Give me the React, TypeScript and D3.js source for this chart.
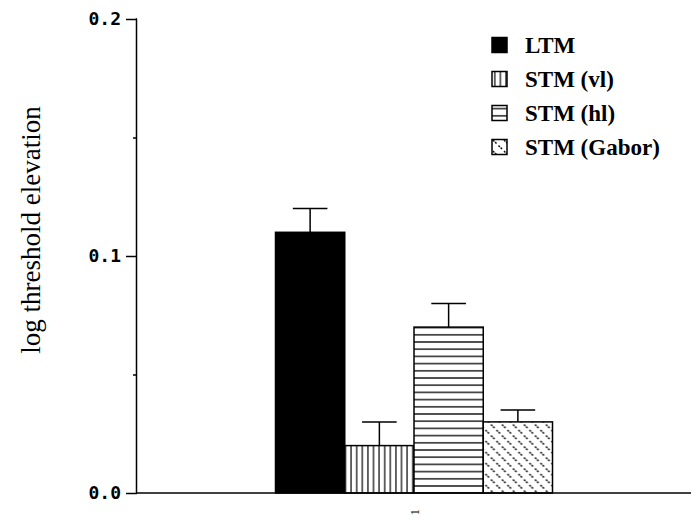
import React, { useEffect, useRef } from 'react';
import * as d3 from 'd3';

// condition on the x axis (single group)
const conditions = ['1'];
// bar series
const series = ['LTM', 'STM (vl)', 'STM (hl)', 'STM (Gabor)'];
const means = [0.11, 0.02, 0.07, 0.03];
const sems = [0.01, 0.01, 0.01, 0.005];
// y ticks
const majorTicks = [0.0, 0.1, 0.2];
const minorTicks = [0.05, 0.15];

const fills = ['#000', 'url(#vl)', 'url(#hl)', 'url(#gabor)'];

const App = () => {
  const chartRef = useRef<SVGSVGElement | null>(null);

  useEffect(() => {
    const width = 691;
    const height = 519;
    const margin = { top: 19, right: 0, bottom: 26, left: 137 };

    const svg = d3.select(chartRef.current);
    svg.selectAll('*').remove();

    const defs = svg.append('defs');
    // vertical lines
    const vl = defs.append('pattern')
      .attr('id', 'vl').attr('patternUnits', 'userSpaceOnUse')
      .attr('width', 5.6).attr('height', 10);
    vl.append('rect').attr('width', 5.6).attr('height', 10).attr('fill', '#fff');
    vl.append('line').attr('x1', 2.8).attr('x2', 2.8).attr('y1', 0).attr('y2', 10)
      .attr('stroke', '#000').attr('stroke-width', 1.2);
    // horizontal lines
    const hl = defs.append('pattern')
      .attr('id', 'hl').attr('patternUnits', 'userSpaceOnUse')
      .attr('width', 10).attr('height', 7.2);
    hl.append('rect').attr('width', 10).attr('height', 7.2).attr('fill', '#fff');
    hl.append('line').attr('x1', 0).attr('x2', 10).attr('y1', 3.6).attr('y2', 3.6)
      .attr('stroke', '#000').attr('stroke-width', 1.3);
    // gabor-ish dashes
    const gb = defs.append('pattern')
      .attr('id', 'gabor').attr('patternUnits', 'userSpaceOnUse')
      .attr('width', 11).attr('height', 11);
    gb.append('rect').attr('width', 11).attr('height', 11).attr('fill', '#fff');
    [[1, 1], [6.5, 6.5]].forEach(([px, py]) => {
      gb.append('line').attr('x1', px).attr('y1', py).attr('x2', px + 3.8).attr('y2', py + 3.8)
        .attr('stroke', '#111').attr('stroke-width', 1.5).attr('stroke-dasharray', '2 1');
    });

    const x = d3.scaleBand()
      .domain(conditions)
      .range([margin.left, width - margin.right])
      .paddingInner(0)
      .paddingOuter(0.5);

    const xInner = d3.scaleBand()
      .domain(series)
      .range([0, x.bandwidth()])
      .padding(0);

    const y = d3.scaleLinear()
      .domain([0, 0.2])
      .range([height - margin.bottom, margin.top]);

    const groups = svg.selectAll('.grp')
      .data(conditions)
      .enter()
      .append('g')
      .attr('class', 'grp')
      .attr('transform', (d) => `translate(${x(d)},0)`);

    const rows = series.map((s, i) => ({ s, m: means[i], e: sems[i], f: fills[i] }));

    groups.selectAll('rect')
      .data(rows)
      .enter()
      .append('rect')
      .attr('x', (d) => xInner(d.s)!)
      .attr('y', (d) => y(d.m))
      .attr('width', xInner.bandwidth())
      .attr('height', (d) => y(0) - y(d.m))
      .attr('fill', (d) => d.f)
      .attr('stroke', '#000')
      .attr('stroke-width', 1.5);

    // error bars
    const cap = xInner.bandwidth() / 4;
    groups.selectAll('.err')
      .data(rows)
      .enter()
      .append('path')
      .attr('class', 'err')
      .attr('d', (d) => {
        const cx = xInner(d.s)! + xInner.bandwidth() / 2;
        return `M${cx},${y(d.m)}V${y(d.m + d.e)}M${cx - cap},${y(d.m + d.e)}H${cx + cap}`;
      })
      .attr('fill', 'none')
      .attr('stroke', '#000')
      .attr('stroke-width', 1.5);

    // y axis
    const yAxis = svg.append('g')
      .attr('transform', `translate(${margin.left},0)`)
      .call(d3.axisLeft(y).tickValues(majorTicks).tickSize(11).tickPadding(5)
        .tickFormat((d) => d3.format('.1f')(d as number)));
    yAxis.select('.domain').attr('d', `M-0.5,${y(0)}V${y(0.2)}H0`).attr('stroke-width', 1.5);
    yAxis.selectAll('.tick line').attr('stroke-width', 1.5);
    yAxis.selectAll('text')
      .attr('font-family', 'DejaVu Sans Mono')
      .attr('font-weight', 'bold')
      .attr('font-size', 18)
      .attr('fill', '#000');

    svg.append('g')
      .attr('transform', `translate(${margin.left},0)`)
      .call(d3.axisLeft(y).tickValues(minorTicks).tickSize(4).tickFormat(() => ''))
      .call((g) => g.select('.domain').remove())
      .selectAll('.tick line').attr('stroke-width', 1.5);

    // x axis
    const xAxis = svg.append('g')
      .attr('transform', `translate(0,${y(0)})`)
      .call(d3.axisBottom(x).tickSize(0));
    xAxis.select('.domain').attr('d', `M${margin.left},0H${width}`).attr('stroke-width', 1.5);
    xAxis.selectAll('text')
      .attr('transform', 'rotate(-90)')
      .attr('text-anchor', 'end')
      .attr('x', -16)
      .attr('y', 0)
      .attr('dy', '0.35em')
      .attr('font-family', 'Liberation Serif')
      .attr('font-size', 13)
      .attr('fill', '#000');

    // y title
    svg.append('text')
      .attr('transform', `translate(40,230) rotate(-90)`)
      .attr('text-anchor', 'middle')
      .attr('font-family', 'Liberation Serif')
      .attr('font-size', 27)
      .attr('fill', '#000')
      .text('log threshold elevation');

    // legend
    const legend = svg.append('g').attr('transform', 'translate(492,37)');
    const items = legend.selectAll('.item')
      .data(rows)
      .enter()
      .append('g')
      .attr('class', 'item')
      .attr('transform', (d, i) => `translate(0,${i * 34})`);
    items.append('rect')
      .attr('y', 0.5)
      .attr('width', 15)
      .attr('height', 15)
      .attr('fill', (d) => d.f)
      .attr('stroke', '#000')
      .attr('stroke-width', 1.5);
    items.append('text')
      .attr('x', 33)
      .attr('y', 8)
      .attr('dy', '0.35em')
      .attr('font-family', 'Liberation Serif')
      .attr('font-weight', 'bold')
      .attr('font-size', 23)
      .attr('fill', '#000')
      .text((d) => d.s);
  }, []);

  return (
    <svg
      ref={chartRef}
      width={691}
      height={519}
      style={{ position: 'absolute', left: 0, top: 0, background: '#fff' }}
    />
  );
};

export default App;
